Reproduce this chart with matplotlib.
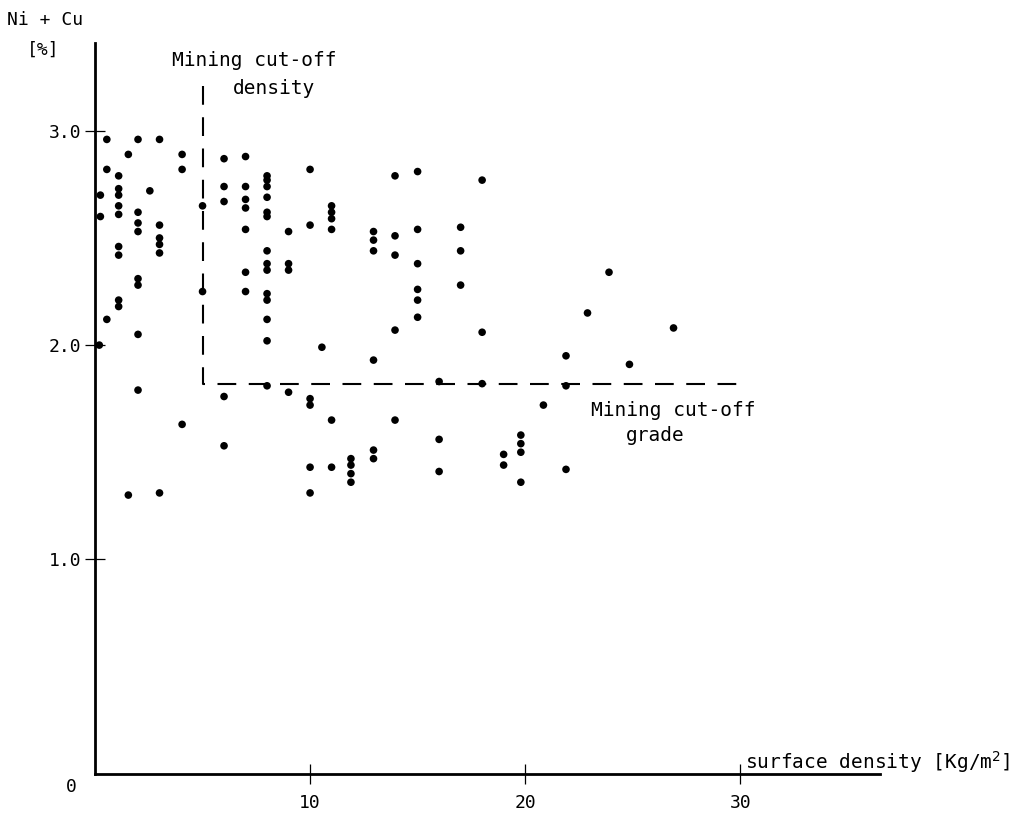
import numpy as np
import matplotlib.pyplot as plt

plt.rcParams['font.family'] = ['DejaVu Sans Mono']

# surface density [kg/m2] for each sample, grouped by column
density = (
    [0.25, 0.25, 0.2]
    + [0.55] * 3
    + [1.1] * 9
    + [1.55] * 2
    + [2.0] * 8
    + [2.55]
    + [3.0] * 6
    + [4.05] * 3
    + [5.0] * 2
    + [6.0] * 5
    + [7.0] * 7
    + [8.0] * 14
    + [9.0] * 4
    + [10.0] * 6
    + [10.55]
    + [11.0] * 6
    + [11.9] * 4
    + [12.95] * 6
    + [13.95] * 5
    + [15.0] * 6
    + [16.0] * 3
    + [17.0] * 3
    + [18.0] * 3
    + [19.0] * 2
    + [19.8] * 4
    + [20.85]
    + [21.9] * 3
    + [22.9]
    + [23.9]
    + [24.85]
    + [26.9]
)

# Ni + Cu grade [%] in the same order
grade = [
    2.70, 2.60, 2.00,
    2.96, 2.82, 2.12,
    2.79, 2.73, 2.70, 2.65, 2.61, 2.46, 2.42, 2.21, 2.18,
    2.89, 1.30,
    2.96, 2.62, 2.57, 2.53, 2.31, 2.28, 2.05, 1.79,
    2.72,
    2.96, 2.56, 2.50, 2.47, 2.43, 1.31,
    2.89, 2.82, 1.63,
    2.65, 2.25,
    2.87, 2.74, 2.67, 1.76, 1.53,
    2.88, 2.74, 2.68, 2.64, 2.54, 2.34, 2.25,
    2.79, 2.77, 2.74, 2.69, 2.62, 2.60, 2.44, 2.38, 2.35, 2.24, 2.21, 2.12, 2.02, 1.81,
    2.53, 2.38, 2.35, 1.78,
    2.82, 2.56, 1.75, 1.72, 1.43, 1.31,
    1.99,
    2.65, 2.62, 2.59, 2.54, 1.65, 1.43,
    1.47, 1.44, 1.40, 1.36,
    2.53, 2.49, 2.44, 1.93, 1.51, 1.47,
    2.79, 2.51, 2.42, 2.07, 1.65,
    2.81, 2.54, 2.38, 2.26, 2.21, 2.13,
    1.83, 1.56, 1.41,
    2.55, 2.44, 2.28,
    2.77, 2.06, 1.82,
    1.49, 1.44,
    1.58, 1.54, 1.50, 1.36,
    1.72,
    1.95, 1.81, 1.42,
    2.15,
    2.34,
    1.91,
    2.08,
]

cutoff_density = 5.0
cutoff_grade = 1.82
density_line_top = 3.21
grade_line_end = 30.0

xticks = [10, 20, 30]
yticks = [1.0, 2.0, 3.0]

W, H = 1013, 813
fig = plt.figure(figsize=(W / 100, H / 100), dpi=100)
ax = fig.add_axes([95 / W, (H - 773.6) / H, (880 - 95) / W, (773.6 - 43) / H])

ax.scatter(density, grade, s=30, c='black', edgecolors='none', zorder=3)

ax.plot([cutoff_density, cutoff_density, grade_line_end],
        [density_line_top, cutoff_grade, cutoff_grade],
        c='black', lw=1.5, ls=(0, (9, 6)))

ax.set_xlim(0, 36.5)
ax.set_ylim(0, 3.41)
for s in ['top', 'right']:
    ax.spines[s].set_visible(False)
for s in ['left', 'bottom']:
    ax.spines[s].set_linewidth(2.0)

ax.set_xticks(xticks)
ax.set_xticklabels([str(t) for t in xticks])
ax.set_yticks(yticks)
ax.set_yticklabels(['%.1f' % t for t in yticks])
ax.tick_params(axis='both', direction='inout', length=14, width=0.9,
               labelsize=13)
ax.tick_params(axis='x', pad=8)
ax.tick_params(axis='y', pad=3)


def ptext(px, py, s, size=14, **kw):
    fig.text(px / W, 1 - py / H, s, fontsize=size, **kw)


ptext(45, 20, 'Ni + Cu', size=13, ha='center', va='center')
ptext(43, 50, '[%]', size=13, ha='center', va='center')
ptext(172, 60, 'Mining cut-off', ha='left', va='center')
ptext(233, 89, 'density', ha='left', va='center')
ptext(591, 410, 'Mining cut-off', ha='left', va='center')
ptext(626, 435, 'grade', ha='left', va='center')
ptext(1010, 762, 'surface density [Kg/m$^2$]', ha='right', va='center')
ptext(71, 787, '0', size=13, ha='center', va='center')

fig.savefig('out.png', dpi=100)
